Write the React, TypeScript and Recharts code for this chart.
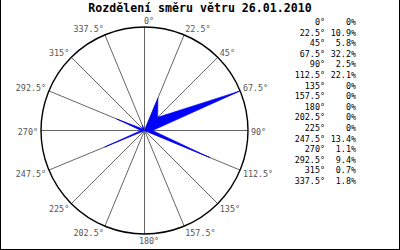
import { RadarChart, Radar, PolarGrid, PolarAngleAxis, PolarRadiusAxis } from 'recharts'

// Wind direction distribution, 26.01.2010
const directions = [0, 22.5, 45, 67.5, 90, 112.5, 135, 157.5, 180, 202.5, 225, 247.5, 270, 292.5, 315, 337.5]
const shares = [0, 10.9, 5.8, 32.2, 2.5, 22.1, 0, 0, 0, 0, 0, 13.4, 1.1, 9.4, 0.7, 1.8]

const title = 'Rozdělení směru větru 26.01.2010'

const data = directions.map((dir, i) => ({ dir, value: shares[i] }))

const MONO = '"DejaVu Sans Mono", "Liberation Mono", monospace'
const CX = 144.5
const CY = 130.5
const R = 103.5

// label sits just outside the rim, nudged away from the circle
const AngleTick = (props: any) => {
  const { payload, textAnchor } = props
  const rad = (payload.coordinate * Math.PI) / 180
  const s = Math.sin(rad)
  const c = Math.cos(rad)
  const px = CX + R * c
  const py = CY - R * s
  const dy = s > 0 ? -6.5 * s : 5.5 * -s + 1.5
  const dx = textAnchor === 'middle' ? 4.5 : 3 * c
  return (
    <text
      x={px + dx}
      y={py + dy}
      textAnchor={textAnchor}
      dominantBaseline="central"
      fontFamily={MONO}
      fontSize={8.4}
      fill="#555"
    >
      {`${payload.value}°`}
    </text>
  )
}

const fmtShare = (v: number) => (v === 0 ? '0%' : `${v.toFixed(1)}%`)

export default function App() {
  return (
    <div style={{ position: 'absolute', left: 0, top: 0, width: 400, height: 250, background: '#fff' }}>
      <RadarChart
        width={400}
        height={250}
        data={data}
        cx={CX}
        cy={CY}
        outerRadius={R}
        margin={{ top: 0, right: 0, bottom: 0, left: 0 }}
      >
        <PolarGrid polarRadius={[]} stroke="#666" strokeWidth={1} />
        <PolarGrid polarRadius={[R]} radialLines={false} gridType="circle" stroke="#000" strokeWidth={1.4} />
        <PolarAngleAxis dataKey="dir" tick={AngleTick} tickLine={false} axisLine={false} />
        <PolarRadiusAxis domain={[0, 'dataMax']} tick={false} axisLine={false} />
        <Radar
          dataKey="value"
          fill="#0000ff"
          fillOpacity={1}
          stroke="#0000ff"
          strokeWidth={0.6}
          isAnimationActive={false}
        />
      </RadarChart>
      <svg width={400} height={250} style={{ position: 'absolute', left: 0, top: 0, pointerEvents: 'none' }}>
        <line x1={0.5} y1={0} x2={0.5} y2={250} stroke="#000" />
        <line x1={399.5} y1={0} x2={399.5} y2={250} stroke="#000" />
        <line x1={0} y1={249.5} x2={400} y2={249.5} stroke="#000" />
        <text x={200} y={12} textAnchor="middle" fontFamily={MONO} fontWeight="bold" fontSize={11.6} fill="#000">
          {title}
        </text>
        {directions.map((d, i) => (
          <g key={d} fontFamily={MONO} fontSize={8.4} fill="#000">
            <text x={325} y={22 + i * 10.6} dominantBaseline="central" textAnchor="end">{`${d}°`}</text>
            <text x={356} y={22 + i * 10.6} dominantBaseline="central" textAnchor="end">{fmtShare(shares[i])}</text>
          </g>
        ))}
      </svg>
    </div>
  )
}
